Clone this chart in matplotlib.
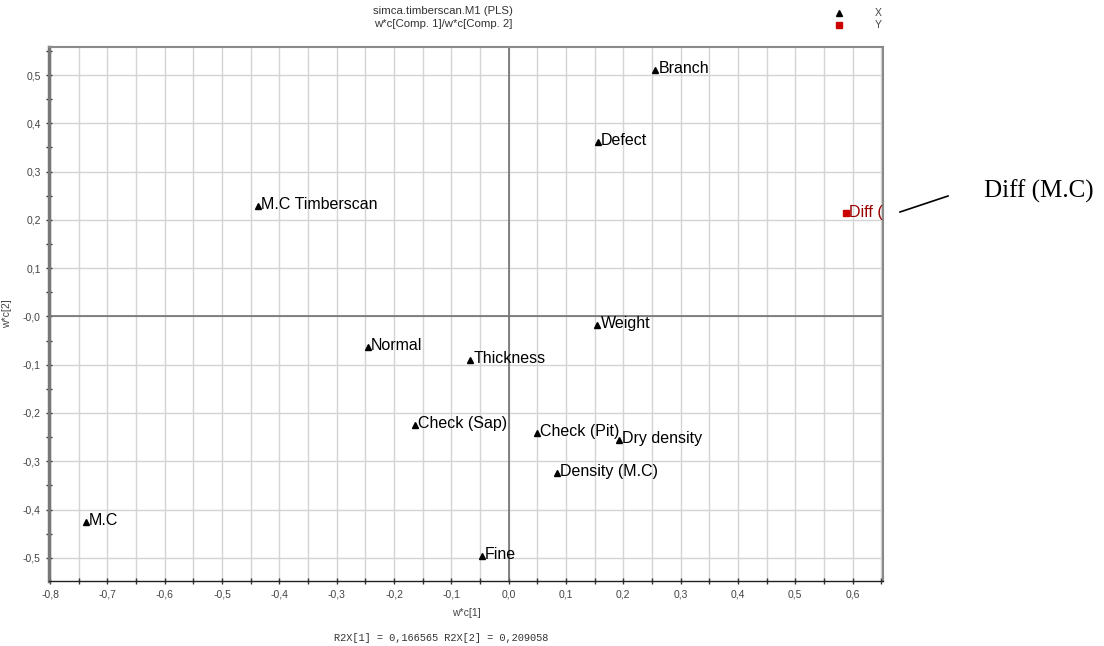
import matplotlib.pyplot as plt
from matplotlib.ticker import MultipleLocator, FixedLocator, FuncFormatter
from matplotlib.lines import Line2D

# PLS loadings w*c[1] / w*c[2]
x_names = ["Branch", "Defect", "M.C Timberscan", "Weight", "Normal", "Thickness",
           "Check (Sap)", "Check (Pit)", "Dry density", "Density (M.C)", "M.C", "Fine"]
x_wc1 = [0.255, 0.155, -0.438, 0.154, -0.246, -0.068, -0.164, 0.049, 0.192, 0.084, -0.738, -0.047]
x_wc2 = [0.510, 0.361, 0.229, -0.018, -0.063, -0.090, -0.225, -0.241, -0.256, -0.324, -0.425, -0.496]

y_names = ["Diff (M.C)"]
y_wc1 = [0.588]
y_wc2 = [0.214]

xticks = [-0.8, -0.7, -0.6, -0.5, -0.4, -0.3, -0.2, -0.1, 0.0, 0.1, 0.2, 0.3, 0.4, 0.5, 0.6]
yticks = [0.5, 0.4, 0.3, 0.2, 0.1, 0.0, -0.1, -0.2, -0.3, -0.4, -0.5]
ytick_labels = ["0,5", "0,4", "0,3", "0,2", "0,1", "-0,0", "-0,1", "-0,2", "-0,3", "-0,4", "-0,5"]

plt.rcParams['font.family'] = ['Liberation Sans', 'DejaVu Sans']

fig = plt.figure(figsize=(11.04, 6.46), dpi=100)
ax = fig.add_axes([49 / 1104, 1 - 581 / 646, (883 - 49) / 1104, (581 - 47) / 646])
ax.set_xlim(-0.802, 0.653)
ax.set_ylim(-0.548, 0.558)

# grid: every 0.05 along x, every 0.1 along y
ax.xaxis.set_major_locator(FixedLocator(xticks))
ax.xaxis.set_minor_locator(MultipleLocator(0.05))
ax.yaxis.set_major_locator(FixedLocator(yticks))
ax.yaxis.set_minor_locator(MultipleLocator(0.05))
ax.xaxis.set_major_formatter(FuncFormatter(lambda v, p: f"{v:.1f}".replace('.', ',').replace('-0,0', '0,0')))
ax.set_yticklabels(ytick_labels)
ax.grid(True, which='both', axis='x', color='#d4d4d4', lw=1)
ax.grid(True, which='major', axis='y', color='#d4d4d4', lw=1)
ax.set_axisbelow(True)
ax.axhline(0, color='#707070', lw=1.2, zorder=1)
ax.axvline(0, color='#707070', lw=1.2, zorder=1)

ax.tick_params(which='both', direction='inout', length=5, width=1, labelsize=7.5, labelcolor='#444444', color='#333333')
for side in ['top', 'right']:
    ax.spines[side].set_color('#8a8a8a')
    ax.spines[side].set_linewidth(1.5)
ax.spines['left'].set_color('#777777')
ax.spines['left'].set_linewidth(2.5)
ax.spines['bottom'].set_color('#222222')
ax.spines['bottom'].set_linewidth(1)

ax.plot(x_wc1, x_wc2, linestyle='none', marker='^', color='black', markersize=5, zorder=3)
for n, a, b in zip(x_names, x_wc1, x_wc2):
    ax.annotate(n, (a, b), xytext=(2.5, -2.2), textcoords='offset points', fontsize=11.5,
                va='baseline', ha='left', color='black')

ax.plot(y_wc1, y_wc2, linestyle='none', marker='s', color='#cc0000', markersize=5, zorder=3, clip_on=False)
for n, a, b in zip(y_names, y_wc1, y_wc2):
    ax.annotate(n, (a, b), xytext=(2.5, -2.6), textcoords='offset points', fontsize=11.5,
                va='baseline', ha='left', color='#990000', annotation_clip=False, clip_on=True)

ax.set_xlabel("w*c[1]", fontsize=7.5, color='#444444', labelpad=6)
ax.set_ylabel("w*c[2]", fontsize=7.5, color='#444444', labelpad=8)

fig.text(443 / 1104, 1 - 11 / 646, "simca.timberscan.M1 (PLS)", ha='center', va='center', fontsize=8.2, color='#333333')
fig.text(443 / 1104, 1 - 24 / 646, "w*c[Comp. 1]/w*c[Comp. 2]", ha='center', va='center', fontsize=8.2, color='#333333')

# legend in the top right corner
fig.lines.append(Line2D([839 / 1104], [1 - 13 / 646], marker='^', color='black', markersize=5, transform=fig.transFigure))
fig.lines.append(Line2D([839 / 1104], [1 - 25 / 646], marker='s', color='#cc0000', markersize=5, transform=fig.transFigure))
fig.text(878 / 1104, 1 - 13 / 646, "X", ha='center', va='center', fontsize=7.5, color='#444444')
fig.text(878 / 1104, 1 - 25 / 646, "Y", ha='center', va='center', fontsize=7.5, color='#444444')

fig.text(441 / 1104, 1 - 638 / 646, "R2X[1] = 0,166565 R2X[2] = 0,209058", ha='center', va='center',
         fontsize=7.4, family='Liberation Mono', color='#333333')

# callout for the clipped Y variable label
fig.lines.append(Line2D([900 / 1104, 948 / 1104], [1 - 212 / 646, 1 - 196 / 646], color='black', lw=1.2,
                        transform=fig.transFigure))
fig.text(984 / 1104, 1 - 191 / 646, "Diff (M.C)", ha='left', va='center', fontsize=18,
         family='Liberation Serif', color='black')

fig.savefig("out.png", dpi=100)
